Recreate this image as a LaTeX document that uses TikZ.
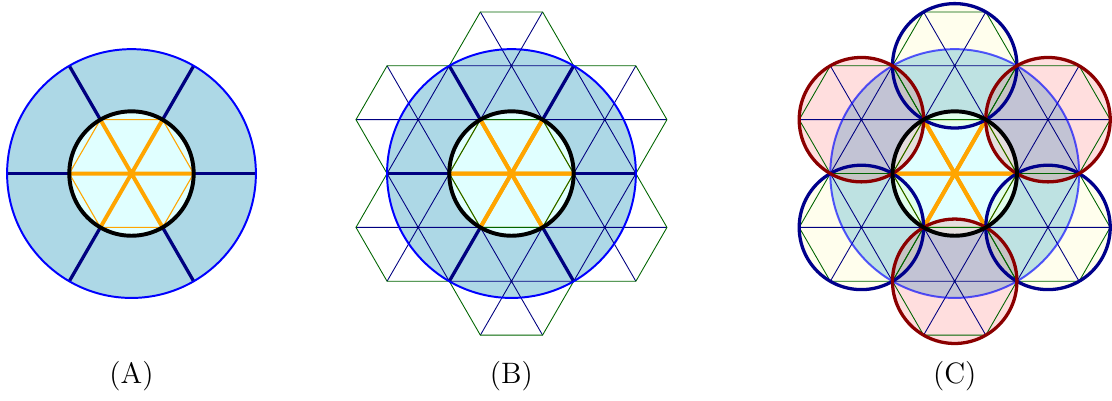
\documentclass[tikz,border=0pt]{standalone}
\usepackage{tikz}
\definecolor{RingFill}{HTML}{ADD8E6}
\definecolor{VeilFill}{HTML}{BAE1F4}
\definecolor{CoreFill}{HTML}{E0FFFF}
\definecolor{Navy}{HTML}{000080}
\definecolor{DarkGreen}{HTML}{006400}
\definecolor{Amber}{HTML}{FFA500}
\definecolor{DarkBlue}{HTML}{00008B}
\definecolor{DarkRed}{HTML}{8B0000}
\tikzset{
  ringline/.style={draw=blue, line width=0.9pt},
  corecircle/.style={draw=black, line width=1.8pt},
  spoke/.style={draw=Navy, line width=1.5pt},
  coreray/.style={draw=Amber, line width=1.8pt},
  coreedge/.style={draw=Amber, line width=0.5pt},
  latline/.style={draw=Navy, line width=0.4pt},
  hexedge/.style={draw=DarkGreen, line width=0.4pt},
  bluepetal/.style={draw=DarkBlue, line width=1.5pt},
  redpetal/.style={draw=DarkRed, line width=1.5pt},
  caption/.style={font=\fontsize{13.5}{16}\selectfont}
}
% orange hexagon in the core disc
\newcommand{\corehex}{%
  \draw[coreedge] (0:1) -- (60:1) -- (120:1) -- (180:1) -- (240:1) -- (300:1) -- cycle;
  \draw[coreray] (0:1) -- (180:1) (60:1) -- (240:1) (120:1) -- (300:1);
}
% the six hexagons around the core
\newcommand{\hexring}{%
  \foreach \a in {30,90,...,330} {
    \begin{scope}[shift={(\a:1.7320508)}]
      \draw[latline] (0:1) -- (180:1) (60:1) -- (240:1) (120:1) -- (300:1);
      \draw[hexedge] (0:1) -- (60:1) -- (120:1) -- (180:1) -- (240:1) -- (300:1) -- cycle;
    \end{scope}
  }
}

\begin{document}
\begin{tikzpicture}
\useasboundingbox (0,0) rectangle (17.878,6.431);

% (A)
\begin{scope}[shift={(2.114,3.641)}]
  \fill[RingFill] (0,0) circle (2);
  \fill[CoreFill] (0,0) circle (1);
  \foreach \a in {0,60,...,300} \draw[spoke] (\a:1) -- (\a:2);
  \draw[ringline] (0,0) circle (2);
  \corehex
  \draw[corecircle] (0,0) circle (1);
\end{scope}

% (B)
\begin{scope}[shift={(8.223,3.641)}]
  \fill[RingFill] (0,0) circle (2);
  \fill[CoreFill] (0,0) circle (1);
  \corehex
  \hexring
  \foreach \a in {0,60,...,300} \draw[spoke] (\a:1) -- (\a:2);
  \draw[ringline] (0,0) circle (2);
  \draw[coreray] (0:1) -- (180:1) (60:1) -- (240:1) (120:1) -- (300:1);
  \draw[corecircle] (0,0) circle (1);
\end{scope}

% (C)
\begin{scope}[shift={(15.349,3.641)}]
  \fill[VeilFill] (0,0) circle (2);
  \fill[CoreFill] (0,0) circle (1);
  \foreach \a in {90,210,330} \fill[yellow, fill opacity=0.07] (\a:1.7320508) circle (1);
  \foreach \a in {30,150,270} \fill[red, fill opacity=0.13] (\a:1.7320508) circle (1);
  \corehex
  \hexring
  \draw[ringline, draw opacity=0.65] (0,0) circle (2);
  \draw[coreray] (0:1) -- (180:1) (60:1) -- (240:1) (120:1) -- (300:1);
  \foreach \a in {90,210,330} \draw[bluepetal] (\a:1.7320508) circle (1);
  \foreach \a in {30,150,270} \draw[redpetal] (\a:1.7320508) circle (1);
  \draw[corecircle] (0,0) circle (1);
\end{scope}

\node[caption] (capA) at (2.114,0.386) {(A)};
\node[caption] (capB) at (8.223,0.386) {(B)};
\node[caption] (capC) at (15.349,0.386) {(C)};
\end{tikzpicture}
\end{document}
